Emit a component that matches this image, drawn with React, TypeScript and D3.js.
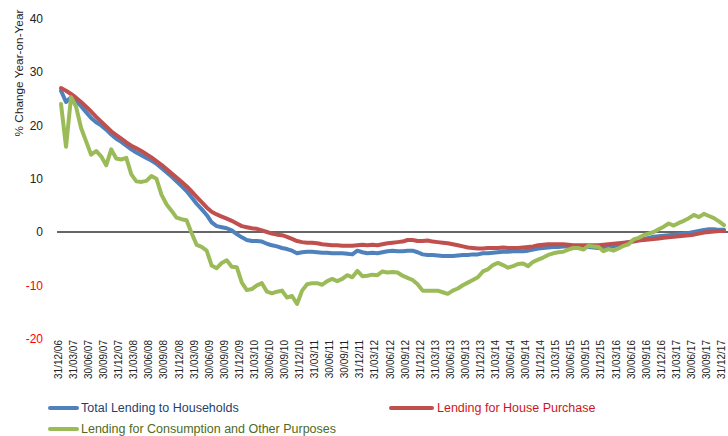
import React from "react";
import * as d3 from "d3";

const tickLabels = [
  "31/12/06","31/03/07","30/06/07","30/09/07","31/12/07","31/03/08","30/06/08","30/09/08",
  "31/12/08","31/03/09","30/06/09","30/09/09","31/12/09","31/03/10","30/06/10","30/09/10",
  "31/12/10","31/03/11","30/06/11","30/09/11","31/12/11","31/03/12","30/06/12","30/09/12",
  "31/12/12","31/03/13","30/06/13","30/09/13","31/12/13","31/03/14","30/06/14","30/09/14",
  "31/12/14","31/03/15","30/06/15","30/09/15","31/12/15","31/03/16","30/06/16","30/09/16",
  "31/12/16","31/03/17","30/06/17","30/09/17","31/12/17"
];

const yTicks = [40, 30, 20, 10, 0, -10, -20];

// Monthly values, Dec 2006 .. Dec 2017
const totalHouseholds = [
  26.5,24.4,25.3,24.6,23.6,22.5,21.4,20.6,20.0,19.2,18.3,17.5,16.9,16.2,15.5,14.9,14.4,13.9,13.4,12.8,
  12.0,11.2,10.4,9.5,8.6,7.7,6.5,5.3,4.3,3.2,1.8,1.1,0.9,0.7,0.3,-0.4,-1.0,-1.5,-1.7,-1.7,
  -1.8,-2.2,-2.5,-2.7,-3.0,-3.2,-3.5,-4.0,-3.8,-3.7,-3.7,-3.8,-3.9,-3.9,-4.0,-4.0,-4.0,-4.1,-4.2,-3.5,
  -3.8,-4.0,-3.9,-4.0,-3.8,-3.6,-3.5,-3.6,-3.6,-3.5,-3.5,-3.8,-4.2,-4.3,-4.3,-4.4,-4.5,-4.5,-4.5,-4.4,
  -4.3,-4.3,-4.2,-4.2,-4.0,-4.0,-3.9,-3.8,-3.7,-3.7,-3.6,-3.6,-3.6,-3.5,-3.3,-3.1,-3.0,-2.9,-2.8,-2.8,
  -2.7,-2.7,-2.7,-2.8,-2.8,-2.8,-2.9,-3.0,-3.0,-2.9,-2.7,-2.4,-2.1,-1.9,-1.7,-1.5,-1.3,-1.1,-0.9,-0.8,
  -0.7,-0.6,-0.5,-0.4,-0.3,-0.2,0.0,0.2,0.4,0.5,0.5,0.4,0.4
];

const housePurchase = [
  27.0,26.5,25.9,25.2,24.4,23.5,22.6,21.6,20.7,19.8,18.9,18.2,17.5,16.8,16.2,15.7,15.2,14.6,14.0,13.3,
  12.6,11.8,11.0,10.2,9.4,8.6,7.6,6.6,5.6,4.6,3.8,3.3,2.9,2.5,2.1,1.6,1.1,0.9,0.7,0.6,
  0.3,0.0,-0.3,-0.5,-0.6,-0.9,-1.3,-1.7,-1.9,-2.0,-2.0,-2.1,-2.3,-2.4,-2.5,-2.5,-2.6,-2.6,-2.6,-2.5,
  -2.4,-2.5,-2.4,-2.5,-2.3,-2.1,-2.0,-1.9,-1.8,-1.5,-1.5,-1.7,-1.7,-1.6,-1.8,-1.9,-2.0,-2.1,-2.3,-2.5,
  -2.7,-2.9,-3.0,-3.1,-3.1,-3.0,-3.0,-3.0,-2.9,-3.0,-3.0,-3.0,-2.9,-2.8,-2.7,-2.5,-2.4,-2.3,-2.3,-2.3,
  -2.3,-2.4,-2.5,-2.5,-2.5,-2.5,-2.5,-2.5,-2.4,-2.3,-2.2,-2.1,-2.0,-1.9,-1.8,-1.6,-1.5,-1.4,-1.3,-1.2,
  -1.1,-1.0,-0.9,-0.8,-0.7,-0.6,-0.5,-0.3,-0.1,0.0,0.1,0.2,0.2
];

const consumptionOther = [
  24.0,16.0,25.3,23.5,19.5,17.0,14.5,15.2,14.2,12.5,15.5,13.8,13.6,13.9,10.8,9.5,9.4,9.6,10.5,10.0,
  7.0,5.2,4.0,2.7,2.4,2.2,-0.2,-2.4,-2.8,-3.5,-6.3,-6.8,-5.8,-5.3,-6.5,-6.6,-9.5,-10.9,-10.7,-10.0,
  -9.6,-11.2,-11.5,-11.2,-11.0,-12.3,-12.0,-13.5,-11.0,-9.8,-9.6,-9.6,-9.9,-9.2,-8.8,-9.2,-8.8,-8.1,-8.5,-7.3,
  -8.3,-8.2,-8.0,-8.1,-7.4,-7.6,-7.5,-7.6,-8.2,-8.6,-9.0,-9.8,-11.0,-11.0,-11.0,-11.0,-11.3,-11.6,-11.0,-10.6,
  -10.0,-9.5,-9.0,-8.5,-7.4,-7.0,-6.2,-5.8,-6.2,-6.7,-6.4,-6.0,-5.9,-6.4,-5.6,-5.2,-4.8,-4.3,-4.0,-3.8,
  -3.7,-3.3,-3.0,-3.0,-3.3,-2.6,-2.7,-2.8,-3.6,-3.2,-3.5,-3.1,-2.6,-2.3,-1.4,-1.1,-0.6,-0.3,0.0,0.5,
  1.0,1.6,1.2,1.7,2.1,2.6,3.2,2.8,3.4,3.0,2.6,2.0,1.3
];

const seriesNames = [
  "Total Lending to Households",
  "Lending for House Purchase",
  "Lending for Consumption and Other Purposes",
];

const W = 728;
const H = 436;
const FONT = "'Liberation Sans', Arial, sans-serif";

export default function App() {
  const n = totalHouseholds.length;
  const x = d3.scaleLinear().domain([0, n - 1]).range([61, 724]);
  const y = d3.scaleLinear().domain([-20, 40]).range([338.6, 18.8]);
  const line = d3
    .line<number>()
    .x((_, i) => x(i))
    .y((d) => y(d));

  const series = [
    { name: seriesNames[0], data: totalHouseholds, color: "#4F81BD" },
    { name: seriesNames[1], data: housePurchase, color: "#C0504D" },
    { name: seriesNames[2], data: consumptionOther, color: "#9BBB59" },
  ];

  return (
    <svg
      width={W}
      height={H}
      style={{ position: "absolute", left: 0, top: 0, background: "#fff" }}
      fontFamily={FONT}
    >
      <rect width={W} height={H} fill="#fff" />
      {/* y axis title */}
      <text
        transform={`translate(23,73) rotate(-90)`}
        textAnchor="middle"
        fontSize={11.8}
        fill="#222"
      >
        % Change Year-on-Year
      </text>
      {/* y ticks */}
      {yTicks.map((t) => (
        <text
          key={t}
          x={43}
          y={y(t)}
          dy="0.36em"
          textAnchor="end"
          fontSize={12}
          fill={t < 0 ? "#FF0000" : "#222"}
        >
          {t}
        </text>
      ))}
      {/* zero line */}
      <line x1={57} x2={728} y1={y(0)} y2={y(0)} stroke="#333" strokeWidth={1.3} />
      {/* x labels */}
      {tickLabels.map((lab, k) => (
        <text
          key={lab}
          transform={`translate(${x(k * 3) - 2.5},340) rotate(-90)`}
          textAnchor="end"
          dy="0.35em"
          fontSize={10}
          fill="#222"
        >
          {lab}
        </text>
      ))}
      {/* series */}
      {series.map((s) => (
        <path
          key={s.name}
          d={line(s.data) || ""}
          fill="none"
          stroke={s.color}
          strokeWidth={4}
          strokeLinejoin="round"
          strokeLinecap="round"
        />
      ))}
      {/* legend */}
      <line x1={50} x2={77} y1={408} y2={408} stroke="#4F81BD" strokeWidth={4} strokeLinecap="round" />
      <text x={81} y={408} dy="0.35em" fontSize={12.5} fill="#1F3F6F">
        {seriesNames[0]}
      </text>
      <line x1={391} x2={432} y1={408} y2={408} stroke="#C0504D" strokeWidth={4} strokeLinecap="round" />
      <text x={437} y={408} dy="0.35em" fontSize={12.5} fill="#D0161B">
        {seriesNames[1]}
      </text>
      <line x1={50} x2={77} y1={429} y2={429} stroke="#9BBB59" strokeWidth={4} strokeLinecap="round" />
      <text x={81} y={429} dy="0.35em" fontSize={12.5} fill="#4F6B22">
        {seriesNames[2]}
      </text>
    </svg>
  );
}
